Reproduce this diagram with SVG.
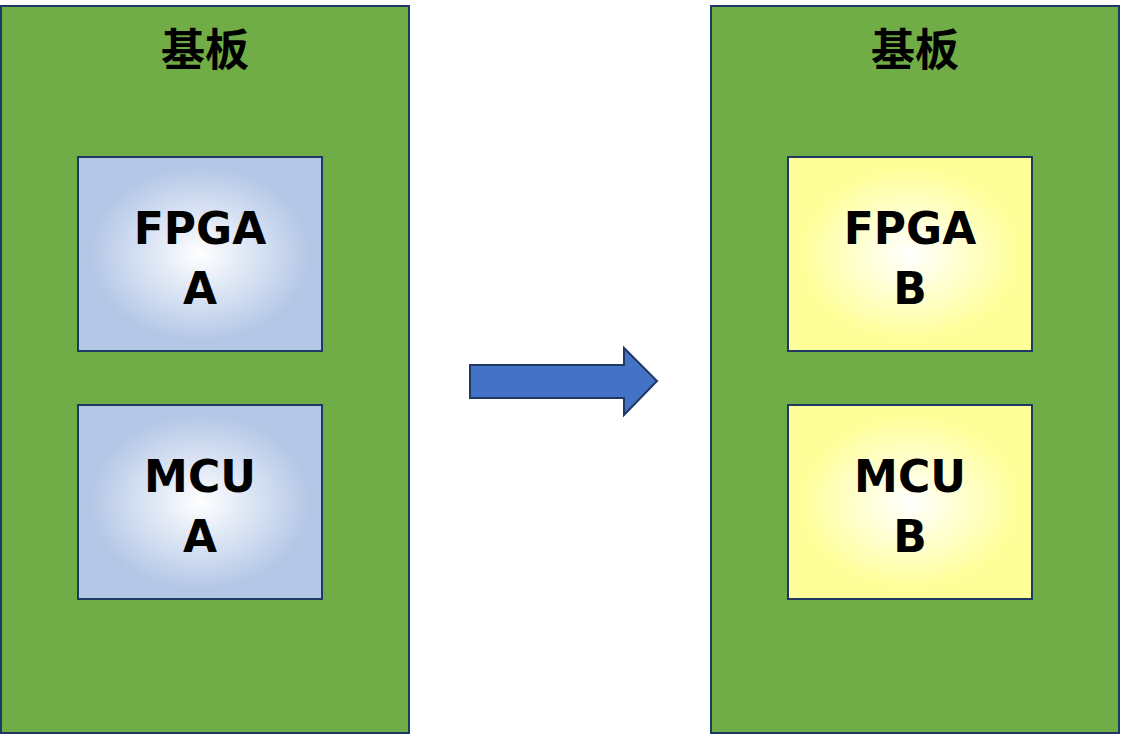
<svg xmlns="http://www.w3.org/2000/svg" width="1121" height="736" viewBox="0 0 1121 736">
<defs>
<radialGradient id="gb" cx="50%" cy="50%" r="60%"><stop offset="0" stop-color="#FFFFFF"/><stop offset="0.75" stop-color="#B4C7E7"/></radialGradient>
<radialGradient id="gy" cx="50%" cy="50%" r="60%"><stop offset="0" stop-color="#FFFFFF"/><stop offset="0.75" stop-color="#FFFF99"/></radialGradient>
<style>
.board{fill:#70AD47;stroke:#1F3864;stroke-width:2}
.chip{stroke:#1F3864;stroke-width:2}
.t{font-family:"DejaVu Sans",sans-serif;font-weight:bold;font-size:44px;text-anchor:middle;fill:#000}
.c{font-family:"Noto Sans CJK SC",sans-serif;font-weight:bold;font-size:44px;text-anchor:middle;fill:#000}
</style>
</defs>
<g id="board-left"><rect class="board" x="1" y="6" width="408" height="727"/><text class="c" x="205" y="66">基板</text></g>
<g id="board-right"><rect class="board" x="711" y="6" width="408" height="727"/><text class="c" x="915" y="66">基板</text></g>
<g id="fpga-a"><rect class="chip" fill="url(#gb)" x="78" y="157" width="244" height="194"/><text class="t" x="200" y="244">FPGA</text><text class="t" x="200" y="304">A</text></g>
<g id="mcu-a"><rect class="chip" fill="url(#gb)" x="78" y="405" width="244" height="194"/><text class="t" x="200" y="492">MCU</text><text class="t" x="200" y="552">A</text></g>
<g id="fpga-b"><rect class="chip" fill="url(#gy)" x="788" y="157" width="244" height="194"/><text class="t" x="910" y="244">FPGA</text><text class="t" x="910" y="304">B</text></g>
<g id="mcu-b"><rect class="chip" fill="url(#gy)" x="788" y="405" width="244" height="194"/><text class="t" x="910" y="492">MCU</text><text class="t" x="910" y="552">B</text></g>
<g id="connectors"><polygon points="470,365 624,365 624,348 657,381 624,415 624,398 470,398" fill="#4472C4" stroke="#1F3864" stroke-width="2"/></g>
</svg>
